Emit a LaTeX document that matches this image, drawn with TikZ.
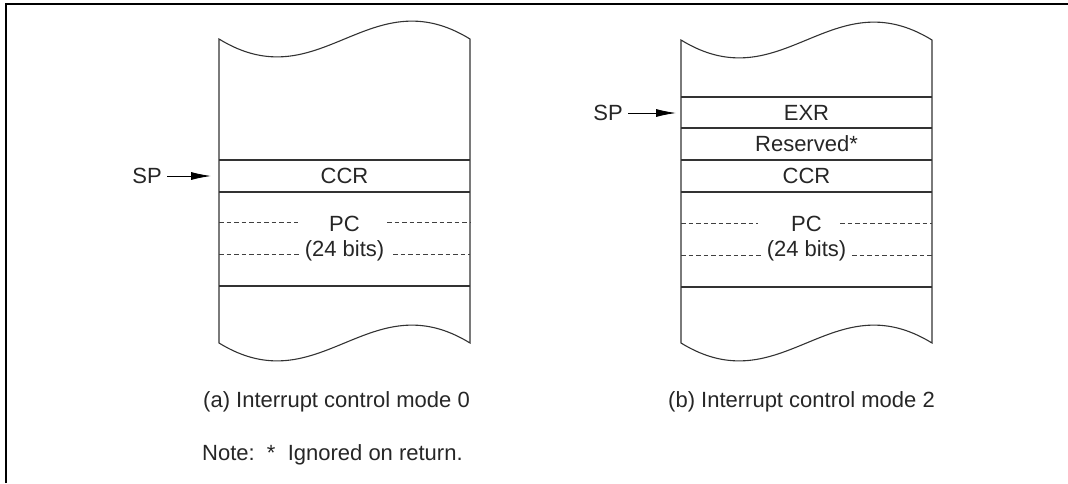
\documentclass[tikz,border=0pt]{standalone}
\usepackage{fontspec}
\setmainfont{Liberation Sans}
\usetikzlibrary{arrows.meta}
\begin{document}
\begin{tikzpicture}[x=1pt,y=-1pt,
  lbl/.style={inner sep=0pt,font=\fontsize{22}{26}\selectfont,text=black!85},
  boxline/.style={line width=1.1pt,draw=black!80},
  dashline/.style={line width=0.8pt,draw=black!75,dash pattern=on 4.5pt off 3pt},
  sparrow/.style={line width=0.9pt,-{Latex[length=20pt,width=8pt]}},
  frameline/.style={line width=2.2pt}]
\useasboundingbox (0,0) rectangle (1068,483);
% outer frame
\draw[frameline] (6,483) -- (6,4) -- (1068,4);

% ---------- left stack ----------
\draw[boxline] (219,39) .. controls +(101,62) and +(-101,-62) .. (470,39)
  -- (470,343) .. controls +(-101,-62) and +(101,62) .. (219,343) -- cycle;
\draw[boxline] (219,160) -- (470,160);
\draw[boxline] (219,192) -- (470,192);
\draw[boxline] (219,286) -- (470,286);
\draw[dashline] (219,222) -- (298,222);
\draw[dashline] (387,222) -- (470,222);
\draw[dashline] (219,254) -- (301,254);
\draw[dashline] (393,254) -- (470,254);
\node[lbl] (ccra) at (344.5,176) {CCR};
\node[lbl] (pca) at (344.5,224) {PC};
\node[lbl] (bitsa) at (344.5,251) {(24 bits)};
\node[lbl,anchor=east] (spa) at (162,176) {SP};
\coordinate (spatip) at (211,176);
\draw[sparrow] (spa.east) ++(5,0) -- (spatip);

% ---------- right stack ----------
\draw[boxline] (681,40) .. controls +(101,62) and +(-101,-62) .. (932,40)
  -- (932,343) .. controls +(-101,-62) and +(101,62) .. (681,343) -- cycle;
\draw[boxline] (681,97) -- (932,97);
\draw[boxline] (681,128) -- (932,128);
\draw[boxline] (681,160) -- (932,160);
\draw[boxline] (681,192) -- (932,192);
\draw[boxline] (681,287) -- (932,287);
\draw[dashline] (681,223) -- (758,223);
\draw[dashline] (840,223) -- (932,223);
\draw[dashline] (681,255) -- (763,255);
\draw[dashline] (852,255) -- (932,255);
\node[lbl] (exr) at (806.5,113) {EXR};
\node[lbl] (res) at (806.5,144) {Reserved*};
\node[lbl] (ccrb) at (806.5,176) {CCR};
\node[lbl] (pcb) at (806.5,224) {PC};
\node[lbl] (bitsb) at (806.5,251) {(24 bits)};
\node[lbl,anchor=east] (spb) at (623,113) {SP};
\coordinate (spbtip) at (676,113);
\draw[sparrow] (spb.east) ++(5,0) -- (spbtip);

% ---------- captions ----------
\node[lbl,anchor=west] (capa) at (203,402) {(a) Interrupt control mode 0};
\node[lbl,anchor=west] (capb) at (668,402) {(b) Interrupt control mode 2};
\node[lbl,anchor=west] (note) at (202,455) {Note:\ \ *\ \ Ignored on return.};
\end{tikzpicture}
\end{document}
